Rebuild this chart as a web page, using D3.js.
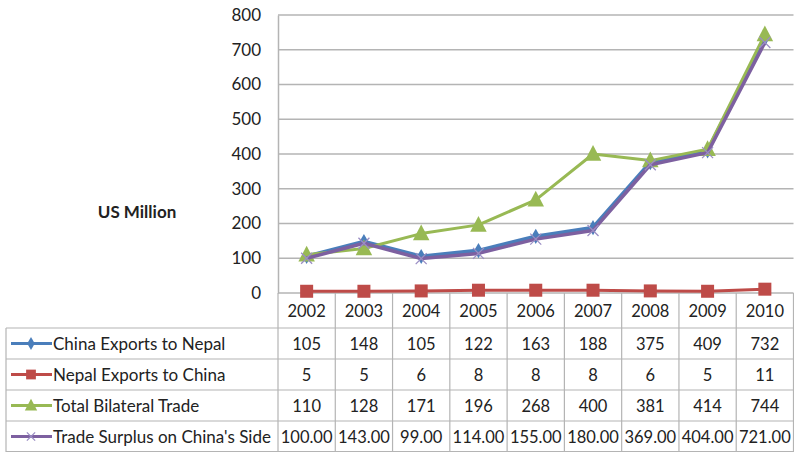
<!DOCTYPE html>
<html>
<head>
<meta charset="utf-8">
<script src="https://cdn.jsdelivr.net/npm/d3@7"></script>
<style>
  body { margin: 0; background: #fff; }
  svg { display: block; font-family: Lato, "Open Sans", sans-serif; }
</style>
</head>
<body>
<div id="chart"></div>
<script>
const years = ['2002', '2003', '2004', '2005', '2006', '2007', '2008', '2009', '2010'];
const chinaExports = [105, 148, 105, 122, 163, 188, 375, 409, 732];
const nepalExports = [5, 5, 6, 8, 8, 8, 6, 5, 11];
const totalTrade = [110, 128, 171, 196, 268, 400, 381, 414, 744];
const tradeSurplus = [100, 143, 99, 114, 155, 180, 369, 404, 721];
const yTicks = [0, 100, 200, 300, 400, 500, 600, 700, 800];

const series = [
  { name: 'China Exports to Nepal', values: chinaExports, color: '#4a7ebb', marker: 'diamond', fmt: d => d },
  { name: 'Nepal Exports to China', values: nepalExports, color: '#be4b48', marker: 'square', fmt: d => d },
  { name: 'Total Bilateral Trade', values: totalTrade, color: '#98b954', marker: 'triangle', fmt: d => d },
  { name: "Trade Surplus on China's Side", values: tradeSurplus, color: '#7d60a0', marker: 'x', fmt: d => d.toFixed(2) }
];

const width = 794, height = 452;
const margin = { top: 15, left: 278, right: 0, bottom: 159 };
const tableLeft = 6;
const headerH = 35;

const svg = d3.select('#chart').append('svg')
  .attr('width', width)
  .attr('height', height);

const x = d3.scaleBand()
  .domain(years)
  .range([margin.left, width - 0.5]);

const y = d3.scaleLinear()
  .domain([0, 800])
  .range([height - margin.bottom, margin.top]);

const rows = d3.scaleBand()
  .domain(series.map(s => s.name))
  .range([y(0) + headerH, height]);

const gridColor = '#b4b4b4';

// gridlines
svg.append('g')
  .selectAll('line')
  .data(yTicks)
  .join('line')
    .attr('x1', margin.left)
    .attr('x2', x.range()[1])
    .attr('y1', d => y(d))
    .attr('y2', d => y(d))
    .attr('stroke', gridColor)
    .attr('stroke-width', 1.5);

// y axis
svg.append('g')
  .attr('transform', `translate(${margin.left},0)`)
  .call(d3.axisLeft(y).tickValues(yTicks).tickSize(0).tickPadding(17))
  .call(g => g.select('.domain').attr('stroke', gridColor).attr('stroke-width', 1.5))
  .call(g => g.selectAll('text').attr('font-size', '17px').attr('fill', '#222').attr('font-family', 'Lato, sans-serif'));

svg.append('text')
  .attr('x', 137)
  .attr('y', 218)
  .attr('text-anchor', 'middle')
  .attr('font-size', '17px')
  .attr('font-weight', 'bold')
  .attr('fill', '#222')
  .text('US Million');

// table
const table = svg.append('g');
const tableTop = y(0);

// vertical lines for year columns
const colEdges = years.map(d => x(d)).concat([x.range()[1]]);
table.selectAll('.vline')
  .data(colEdges)
  .join('line')
    .attr('x1', d => d).attr('x2', d => d)
    .attr('y1', tableTop).attr('y2', height)
    .attr('stroke', gridColor).attr('stroke-width', 1.2);

// left border of label column
table.append('line')
  .attr('x1', tableLeft).attr('x2', tableLeft)
  .attr('y1', rows.range()[0]).attr('y2', height)
  .attr('stroke', gridColor).attr('stroke-width', 1.2);

// horizontal row lines
table.selectAll('.hline')
  .data(series.map(s => rows(s.name)).concat([height - 0.5]))
  .join('line')
    .attr('x1', tableLeft).attr('x2', x.range()[1])
    .attr('y1', d => d).attr('y2', d => d)
    .attr('stroke', gridColor).attr('stroke-width', 1.2);

// year headers
table.selectAll('.year')
  .data(years)
  .join('text')
    .attr('x', d => x(d) + x.bandwidth() / 2)
    .attr('y', tableTop + headerH / 2 + 6)
    .attr('text-anchor', 'middle')
    .attr('font-size', '16.5px')
    .attr('fill', '#222')
    .text(d => d);

// cell values
series.forEach(s => {
  table.append('g')
    .selectAll('text')
    .data(s.values)
    .join('text')
      .attr('x', (d, i) => x(years[i]) + x.bandwidth() / 2)
      .attr('y', rows(s.name) + rows.bandwidth() / 2 + 6)
      .attr('text-anchor', 'middle')
      .attr('font-size', '16.5px')
      .attr('fill', '#222')
      .text(d => s.fmt(d));
});

function drawMarker(g, type, color, size) {
  if (type === 'diamond') {
    g.append('path').attr('d', d3.symbol(d3.symbolDiamond, size * 6)())
      .attr('fill', color);
  } else if (type === 'square') {
    g.append('rect').attr('x', -size / 2).attr('y', -size / 2)
      .attr('width', size).attr('height', size).attr('fill', color);
  } else if (type === 'triangle') {
    g.append('path').attr('d', `M0,${-size * 0.6}L${size * 0.55},${size * 0.45}L${-size * 0.55},${size * 0.45}Z`)
      .attr('fill', color);
  } else {
    const h = size / 2;
    g.append('path').attr('d', `M${-h},${-h}L${h},${h}M${-h},${h}L${h},${-h}`)
      .attr('stroke', '#9b8ec4').attr('stroke-width', 1.3).attr('fill', 'none');
  }
}

const markerSize = { diamond: 11, square: 13, triangle: 15, x: 11 };
const lineWidth = { diamond: 4, square: 3, triangle: 3, x: 3.5 };

// legend keys in table
series.forEach(s => {
  const cy = rows(s.name) + rows.bandwidth() / 2;
  table.append('line')
    .attr('x1', 11).attr('x2', 52)
    .attr('y1', cy).attr('y2', cy)
    .attr('stroke', s.color).attr('stroke-width', 3);
  const m = table.append('g').attr('transform', `translate(31,${cy})`);
  drawMarker(m, s.marker, s.color, markerSize[s.marker] * 0.75);
  table.append('text')
    .attr('x', 53)
    .attr('y', cy + 6)
    .attr('font-size', '17px')
    .attr('fill', '#222')
    .text(s.name);
});

// lines
const line = d3.line()
  .x((d, i) => x(years[i]) + x.bandwidth() / 2)
  .y(d => y(d));

series.forEach(s => {
  const g = svg.append('g');
  g.append('path')
    .datum(s.values)
    .attr('d', line)
    .attr('fill', 'none')
    .attr('stroke', s.color)
    .attr('stroke-width', lineWidth[s.marker])
    .attr('stroke-linejoin', 'round');
  g.selectAll('g')
    .data(s.values)
    .join('g')
      .attr('transform', (d, i) => `translate(${x(years[i]) + x.bandwidth() / 2},${y(d)})`)
      .each(function () { drawMarker(d3.select(this), s.marker, s.color, markerSize[s.marker]); });
});
</script>
</body>
</html>
